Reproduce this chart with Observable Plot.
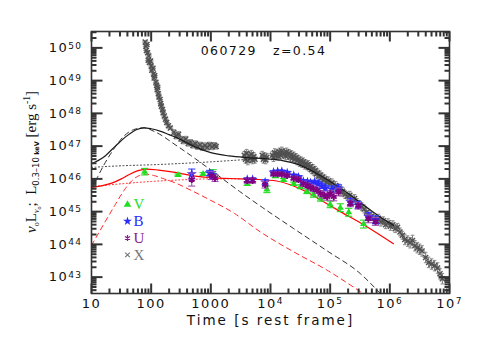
<!DOCTYPE html>
<html><head><meta charset="utf-8">
<script src="https://cdn.jsdelivr.net/npm/d3@7"></script>
<script src="https://cdn.jsdelivr.net/npm/@observablehq/plot@0.6"></script>
<style>
body{margin:0;background:#fff;}
#chart{width:491px;height:360px;}
</style></head><body><div id="chart"></div>
<script>
// ---- tick labels ----
const xTickValues = [10, 100, 1000, 1e4, 1e5, 1e6, 1e7];
const xTickLabels = ["10", "100", "1000", "10^4", "10^5", "10^6", "10^7"];
const yTickValues = [1e43, 1e44, 1e45, 1e46, 1e47, 1e48, 1e49, 1e50];
const yTickLabels = ["10^43", "10^44", "10^45", "10^46", "10^47", "10^48", "10^49", "10^50"];
const titleText = "060729\u00a0\u00a0\u00a0z=0.54";
const xLabelText = "Time [s rest frame]";

// ---- X-ray data: [log10 t, log10 L] ----
const xraySteep = [[1.90,50.18],[1.91,50.05],[1.93,50.10],[1.92,49.92],[1.94,49.85],[1.96,49.75],[1.95,49.62],[1.97,49.55],[1.99,49.60],[2.00,49.45],[2.01,49.32],[2.03,49.38],[2.04,49.20],[2.05,49.08],[2.06,49.15],[2.08,48.95],[2.09,48.85],[2.10,48.72],[2.11,48.80],[2.12,48.60],[2.13,48.50],[2.15,48.42],[2.16,48.30],[2.17,48.22],[2.19,48.12],[2.20,48.02],[2.22,47.92],[2.24,47.82],[2.26,47.72],[2.29,47.62],[2.32,47.55]];
const xrayFlare = [[2.38,47.42],[2.42,47.30],[2.46,47.36],[2.50,47.22],[2.54,47.15],[2.58,47.22],[2.62,47.08],[2.66,47.12],[2.70,47.02],[2.74,47.08],[2.78,46.98],[2.82,47.04],[2.86,46.95],[2.90,47.02],[2.94,46.96],[2.98,47.04],[3.02,46.97],[3.06,47.03],[3.09,46.99]];
const xrayMid = [[3.56,46.72],[3.58,46.60],[3.60,46.78],[3.62,46.55],[3.64,46.70],[3.66,46.62],[3.68,46.75],[3.70,46.58],[3.72,46.68],[3.74,46.60],
 [3.86,46.72],[3.88,46.60],[3.90,46.68],[3.92,46.58],[3.94,46.66],
 [4.03,46.72],[4.05,46.65],[4.07,46.80],[4.09,46.70],[4.11,46.78],[4.13,46.68],[4.15,46.82],[4.17,46.72],[4.19,46.85],[4.21,46.75],[4.23,46.80],[4.25,46.70],[4.27,46.82],[4.29,46.72],[4.31,46.78],[4.33,46.66],[4.35,46.74],[4.37,46.64],[4.39,46.70],[4.41,46.60],[4.43,46.65],[4.45,46.55],[4.47,46.60],[4.49,46.50],[4.51,46.55],[4.53,46.47],[4.55,46.52],[4.57,46.42],[4.59,46.46],[4.61,46.40],[4.63,46.44],[4.65,46.34],[4.67,46.38],[4.69,46.28],[4.71,46.32],[4.73,46.22],[4.75,46.26],[4.77,46.15],[4.79,46.18],[4.81,46.08],[4.83,46.12],[4.85,46.02],[4.87,46.06],[4.89,45.96],[4.91,46.00],[4.94,45.90],[4.97,45.94],[5.00,45.84],[5.03,45.88],[5.06,45.76],[5.09,45.80],[5.12,45.68],[5.15,45.72],[5.18,45.60],[5.21,45.62],[5.25,45.52],[5.29,45.48],[5.33,45.50],[5.37,45.38],[5.41,45.40],[5.45,45.28],[5.49,45.22],[5.53,45.15],[5.57,45.08],[5.61,44.98],[5.65,44.92],[5.69,44.86],[5.73,44.80],[5.77,44.74],[5.81,44.80],[5.85,44.68],[5.89,44.72],[5.93,44.60],[5.97,44.66],[6.01,44.55],[6.05,44.60],[6.09,44.48],[6.13,44.52],[6.17,44.38],[6.21,44.28]];
const xrayLate = [[6.25,44.15],[6.30,44.10],[6.34,44.05],[6.38,44.12],[6.42,43.96],[6.46,43.90],[6.50,43.85],[6.54,43.80],[6.60,43.60],[6.65,43.45],[6.70,43.40],[6.75,43.35],[6.80,43.28],[6.84,43.10],[6.88,42.95]];

// ---- optical data: [log10 t, log10 L, error (dex)] ----
const vBand = [[1.89,46.22,0.10],[2.45,46.12,0.03],[2.87,46.15,0.04],[3.04,46.18,0.10],[3.61,45.85,0.05],[3.94,45.68,0.10],[4.08,46.08,0.04],[4.22,45.97,0.04],[4.39,45.85,0.05],[4.50,45.76,0.06],[4.61,45.62,0.07],[4.72,45.52,0.08],[4.84,45.40,0.08],[5.00,45.22,0.10],[5.17,45.12,0.12],[5.31,44.98,0.12],[5.56,44.62,0.12]];
const bBand = [[2.68,46.15,0.15],[2.98,46.18,0.08],[3.03,46.12,0.10],[3.61,45.98,0.06],[3.70,45.98,0.06],[3.91,45.90,0.08],[4.05,46.20,0.05],[4.12,46.22,0.05],[4.19,46.22,0.05],[4.28,46.18,0.05],[4.39,46.10,0.05],[4.47,46.05,0.05],[4.55,45.92,0.06],[4.62,45.90,0.06],[4.67,45.88,0.06],[4.74,45.90,0.06],[4.80,45.85,0.07],[4.86,45.78,0.07],[4.92,45.72,0.08],[5.03,45.68,0.10],[5.14,45.72,0.10],[5.34,45.30,0.10],[5.47,45.20,0.10],[5.64,44.85,0.12],[5.76,44.75,0.12]];
const uBand = [[2.68,45.98,0.20],[3.01,46.10,0.12],[3.07,46.02,0.10],[3.61,45.95,0.08],[3.70,45.95,0.08],[3.91,45.82,0.10],[4.05,46.15,0.06],[4.12,46.15,0.06],[4.19,46.14,0.06],[4.28,46.10,0.06],[4.39,46.02,0.06],[4.47,45.98,0.07],[4.55,45.85,0.08],[4.62,45.80,0.08],[4.67,45.74,0.08],[4.72,45.70,0.08],[4.78,45.65,0.09],[4.84,45.55,0.10],[4.90,45.50,0.10],[4.95,45.45,0.10],[5.00,45.55,0.10],[5.06,45.45,0.12],[5.14,45.60,0.12],[5.34,45.25,0.10],[5.47,45.18,0.10],[5.64,44.78,0.12],[5.76,44.70,0.12]];

// ---- model curves: [log10 t, log10 L] ----
const blackSolid = [[1.0,46.46],[1.2,46.66],[1.4,47.0],[1.6,47.32],[1.75,47.5],[1.88,47.56],[2.0,47.53],[2.16,47.45],[2.3,47.35],[2.44,47.25],[2.6,47.1],[2.75,46.97],[3.0,46.8],[3.3,46.7],[3.6,46.65],[3.9,46.62],[4.2,46.56],[4.45,46.45],[4.72,46.22],[5.0,45.92],[5.28,45.58],[5.56,45.2],[5.8,44.88],[6.06,44.58]];
const blackDashed = [[1.0,45.7],[1.1,46.05],[1.2,46.4],[1.37,46.9],[1.54,47.3],[1.7,47.5],[1.88,47.56],[2.05,47.45],[2.2,47.3],[2.31,47.16],[2.66,46.72],[3.0,46.27],[3.48,45.62],[3.83,45.17],[4.39,44.48],[4.95,43.8],[5.51,43.1],[5.84,42.5]];
const blackDotted = [[1.0,46.35],[1.5,46.4],[2.0,46.43],[2.5,46.47],[3.0,46.52],[3.5,46.58],[3.8,46.62]];
const redSolid = [[1.0,45.74],[1.2,45.8],[1.34,45.87],[1.5,46.0],[1.65,46.15],[1.78,46.25],[1.92,46.3],[2.12,46.27],[2.4,46.2],[2.68,46.1],[3.0,46.04],[3.5,46.0],[4.05,45.95],[4.33,45.82],[4.61,45.6],[4.89,45.3],[5.17,45.0],[5.56,44.6],[6.06,44.02]];
const redDashed = [[1.0,43.97],[1.2,44.6],[1.4,45.22],[1.55,45.66],[1.68,45.95],[1.8,46.1],[1.92,46.14],[2.05,46.1],[2.2,46.01],[2.4,45.88],[2.68,45.64],[2.95,45.39],[3.4,44.94],[3.83,44.38],[4.39,43.77],[4.95,43.21],[5.51,42.55]];
const redDotted = [[1.0,45.76],[1.5,45.85],[2.0,45.92],[2.5,45.97],[3.0,46.0],[3.5,46.0]];

// ---- legend ----
const legendLabels = ["V", "B", "U", "X"];
const legendColors = ["#22dd22", "#2a2aff", "#8a1a8a", "#777777"];
const legendSymbols = ["triangle", "star", "asterisk", "times"];

// ---- build ----
const W = 491, H = 360, mL = 91, mR = 42, mT = 31, mB = 67;
const innerW = W - mL - mR, innerH = H - mT - mB;
const yLo = 42.5, yHi = 50.5, xLo = 1, xHi = 7;
const pxPerDecY = innerH / (yHi - yLo), pxPerDecX = innerW / (xHi - xLo);

const toCurve = a => a.map(([lt, ll]) => ({t: 10 ** lt, L: 10 ** ll}));
const toX = (a, ey, ex) => a.map(([lt, ll]) => ({t: 10 ** lt, L: 10 ** ll, lo: 10 ** (ll - ey), hi: 10 ** (ll + ey), tl: 10 ** (lt - ex), th: 10 ** (lt + ex), cl: 10 ** (lt - 0.03), ch: 10 ** (lt + 0.03)}));
const toOpt = a => a.map(([lt, ll, e]) => ({t: 10 ** lt, L: 10 ** ll, lo: 10 ** (ll - e), hi: 10 ** (ll + e), cl: 10 ** (lt - 0.06), ch: 10 ** (lt + 0.06)}));

const xray = [...toX(xraySteep, 0.05, 0.05), ...toX(xrayFlare, 0.08, 0.04), ...toX(xrayMid, 0.12, 0.035), ...toX(xrayLate, 0.16, 0.05)];
const V = toOpt(vBand), B = toOpt(bBand), U = toOpt(uBand);

const xMinor = [];
for (let e = 1; e < 7; e++) for (let m = 2; m <= 9; m++) xMinor.push(m * 10 ** e);
const yMinor = [];
for (let e = 42; e <= 50; e++) for (let m = 2; m <= 9; m++) { const v = m * 10 ** e; if (v > 10 ** yLo && v < 10 ** yHi) yMinor.push(v); }

// inward tick segments, lengths in pixels converted to decades
const xTickSegs = (vals, len) => vals.flatMap(v => [
  {x1: v, x2: v, y1: 10 ** yLo, y2: 10 ** (yLo + len / pxPerDecY)},
  {x1: v, x2: v, y1: 10 ** yHi, y2: 10 ** (yHi - len / pxPerDecY)}]);
const yTickSegs = (vals, len) => vals.flatMap(v => [
  {y1: v, y2: v, x1: 10 ** xLo, x2: 10 ** (xLo + len / pxPerDecX)},
  {y1: v, y2: v, x1: 10 ** xHi, x2: 10 ** (xHi - len / pxPerDecX)}]);
const tickSegs = [...xTickSegs(xTickValues, 10), ...xTickSegs(xMinor, 5), ...yTickSegs(yTickValues, 11), ...yTickSegs(yMinor, 5)];

const xLabelOf = v => xTickLabels[xTickValues.indexOf(v)];
const yLabelOf = v => yTickLabels[yTickValues.indexOf(v)];

function errMarks(data, color) {
  return [
    Plot.link(data, {x1: "t", x2: "t", y1: "lo", y2: "hi", stroke: color, strokeWidth: 1.1, clip: true}),
    Plot.link(data, {x1: "cl", x2: "ch", y1: "lo", y2: "lo", stroke: color, strokeWidth: 1.1, clip: true}),
    Plot.link(data, {x1: "cl", x2: "ch", y1: "hi", y2: "hi", stroke: color, strokeWidth: 1.1, clip: true})
  ];
}

const legendMarks = [];
legendLabels.forEach((lab, i) => {
  const sym = legendSymbols[i];
  const filled = sym === "triangle" || sym === "star";
  legendMarks.push(Plot.dot([lab], {frameAnchor: "top-left", dx: 36, dy: 173 + 16.8 * i, symbol: sym, r: sym === "times" ? 2.2 : 2.8,
    fill: filled ? legendColors[i] : "none", stroke: filled ? "none" : legendColors[i], strokeWidth: 1.2}));
  legendMarks.push(Plot.text([lab], {frameAnchor: "top-left", dx: 42, dy: 173 + 16.8 * i, text: d => d, textAnchor: "start", lineAnchor: "middle",
    fill: legendColors[i], fontSize: 15, fontFamily: "'Liberation Serif', serif"}));
});

const plot = Plot.plot({
  width: W, height: H,
  marginLeft: mL, marginRight: mR, marginTop: mT, marginBottom: mB,
  x: {type: "log", domain: [10 ** xLo, 10 ** xHi]},
  y: {type: "log", domain: [10 ** yLo, 10 ** yHi]},
  style: {fontFamily: "'DejaVu Sans', sans-serif", fontSize: "13px", background: "white", color: "#111"},
  marks: [
    Plot.axisX({ticks: xTickValues, tickFormat: xLabelOf, tickSize: 0, tickPadding: 5, label: null, fontSize: 13}),
    Plot.axisY({ticks: yTickValues, tickFormat: yLabelOf, tickSize: 0, tickPadding: 9, label: null, fontSize: 13}),
    // X-ray data
    Plot.link(xray, {x1: "t", x2: "t", y1: "lo", y2: "hi", stroke: "#7c7c7c", strokeWidth: 1.1, clip: true}),
    Plot.link(xray, {x1: "tl", x2: "th", y1: "L", y2: "L", stroke: "#7c7c7c", strokeWidth: 1.1, clip: true}),
    Plot.link(xray, {x1: "cl", x2: "ch", y1: "lo", y2: "lo", stroke: "#8a8a8a", strokeWidth: 1, clip: true}),
    Plot.link(xray, {x1: "cl", x2: "ch", y1: "hi", y2: "hi", stroke: "#8a8a8a", strokeWidth: 1, clip: true}),
    Plot.dot(xray, {x: "t", y: "L", symbol: "times", r: 2.4, stroke: "#505050", strokeWidth: 1.4, clip: true}),
    // models
    Plot.line(toCurve(blackDotted), {x: "t", y: "L", stroke: "#333", strokeWidth: 1, strokeDasharray: "1,2.5", curve: "monotone-x", clip: true}),
    Plot.line(toCurve(redDotted), {x: "t", y: "L", stroke: "#ff2020", strokeWidth: 1, strokeDasharray: "1,2.5", curve: "monotone-x", clip: true}),
    Plot.line(toCurve(blackDashed), {x: "t", y: "L", stroke: "#333", strokeWidth: 1, strokeDasharray: "5,4", curve: "monotone-x", clip: true}),
    Plot.line(toCurve(redDashed), {x: "t", y: "L", stroke: "#ff2a2a", strokeWidth: 1, strokeDasharray: "5,4", curve: "monotone-x", clip: true}),
    Plot.line(toCurve(blackSolid), {x: "t", y: "L", stroke: "#1a1a1a", strokeWidth: 1.2, curve: "monotone-x", clip: true}),
    Plot.line(toCurve(redSolid), {x: "t", y: "L", stroke: "#ff0000", strokeWidth: 1.2, curve: "monotone-x", clip: true}),
    // optical data
    ...errMarks(V, "#22dd22"),
    Plot.dot(V, {x: "t", y: "L", symbol: "triangle", r: 2.6, fill: "#22dd22", clip: true}),
    ...errMarks(B, "#4040ff"),
    Plot.dot(B, {x: "t", y: "L", symbol: "star", r: 3.2, fill: "#2a2aff", clip: true}),
    ...errMarks(U, "#a050b0"),
    Plot.dot(U, {x: "t", y: "L", symbol: "asterisk", r: 3.2, stroke: "#800080", strokeWidth: 1.8, clip: true}),
    // title and x label
    Plot.text([titleText], {text: d => d, frameAnchor: "top", dx: -7, dy: 19, lineAnchor: "middle", fontSize: 12.5, fill: "#111"}),
    Plot.text([xLabelText], {text: d => d, frameAnchor: "bottom", dx: 0, dy: 27, lineAnchor: "middle", fontSize: 13.5, fill: "#111"}),
    ...legendMarks,
    Plot.frame({stroke: "#333", strokeWidth: 1.6}),
    // inward tick marks on all four sides
    Plot.link(tickSegs, {x1: "x1", x2: "x2", y1: "y1", y2: "y2", stroke: "#333", strokeWidth: 2})
  ]
});

document.getElementById("chart").appendChild(plot);
const svg = d3.select(plot);
svg.attr("letter-spacing", "1px");

// superscript exponents in tick labels
svg.selectAll('g[aria-label="x-axis tick label"] text, g[aria-label="y-axis tick label"] text').each(function () {
  const s = this.textContent;
  const m = s.match(/^10\^(\d+)$/);
  if (m) {
    const t = d3.select(this);
    t.text(null);
    t.append("tspan").text("10");
    t.append("tspan").attr("font-size", 9).attr("dy", "-3.4").attr("letter-spacing", "1.4px").text(m[1]);
  }
});
svg.selectAll('g[aria-label="x-axis tick label"] text, g[aria-label="y-axis tick label"] text').attr("letter-spacing", "1.5px");
svg.selectAll("text").filter(function () { return this.textContent === xLabelText; }).attr("letter-spacing", "2px");
svg.selectAll("text").filter(function () { return this.textContent === titleText; }).attr("letter-spacing", "1.4px");

// y axis label with subscripts
const yl = svg.append("text")
  .attr("transform", "translate(36,162) rotate(-90)")
  .attr("text-anchor", "middle")
  .attr("font-family", "'Liberation Serif', serif")
  .attr("letter-spacing", "0px")
  .attr("font-size", 15)
  .attr("fill", "#111");
const parts = [
  ["\u03bd", 15, 0, "italic"], ["o", 8, 3], ["L", 15, -3], ["\u03bd", 8, 3, "italic"], ["o", 6, 2], [";", 15, -5],
  ["\u00a0\u00a0L", 15, 0], ["0.3\u201310", 8.5, 3, null, "'DejaVu Sans', sans-serif"], ["\u00a0keV", 6.5, 0, null, "'DejaVu Sans', sans-serif", "bold"],
  ["\u00a0[erg s", 15, -3], ["-1", 9.5, -6], ["]", 15, 6]
];
parts.forEach(([txt, fs, dy, style, fam, wt]) => {
  const ts = yl.append("tspan").attr("font-size", fs).attr("dy", dy).text(txt);
  if (style) ts.attr("font-style", style);
  if (fam) ts.attr("font-family", fam);
  if (wt) ts.attr("font-weight", wt);
});
</script></body></html>
